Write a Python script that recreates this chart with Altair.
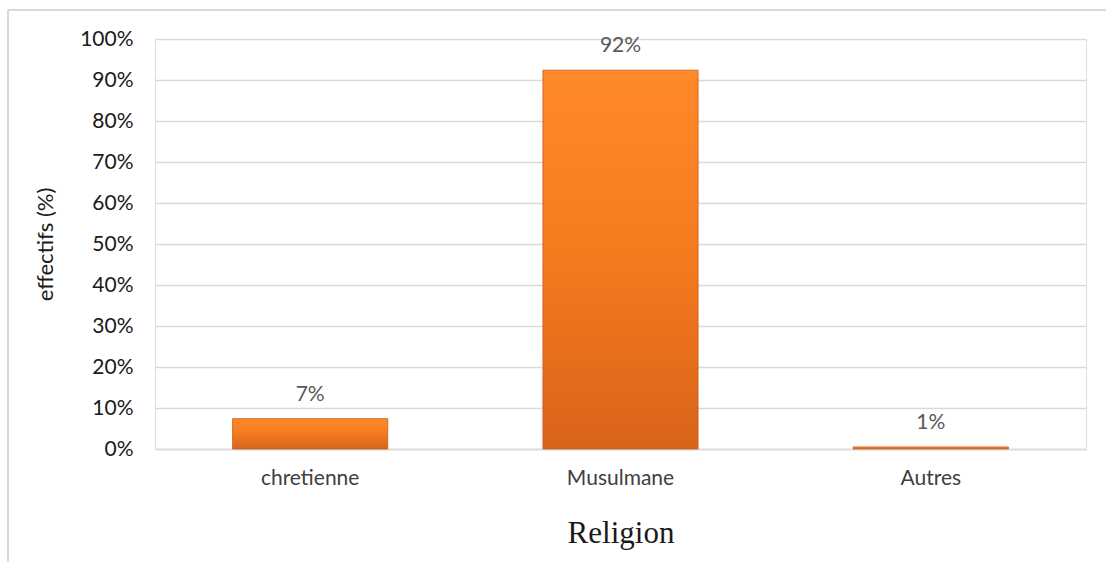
import altair as alt
import pandas as pd

categories = ["chretienne", "Musulmane", "Autres"]
values = [7.4, 92.4, 0.5]
labels = ["7%", "92%", "1%"]
y_ticks = [0, 10, 20, 30, 40, 50, 60, 70, 80, 90, 100]

df = pd.DataFrame({"religion": categories, "pct": values, "label": labels})

FONT = "Lato"
GRID = "#D9D9D9"

x_enc = alt.X(
    "religion:N",
    sort=categories,
    scale=alt.Scale(paddingInner=0.5, paddingOuter=0.25),
    axis=alt.Axis(
        title="Religion",
        labelAngle=0,
        ticks=False,
        labelFont=FONT,
        labelFontSize=21,
        labelColor="#404040",
        labelPadding=18,
        titleFont="Liberation Serif",
        titleFontSize=31,
        titleFontWeight="normal",
        titleColor="#1a1a1a",
        titlePadding=30,
        domainColor=GRID,
        domainWidth=1.5,
    ),
)

y_enc = alt.Y(
    "pct:Q",
    scale=alt.Scale(domain=[0, 100], nice=False),
    axis=alt.Axis(
        title="effectifs (%)",
        values=y_ticks,
        labelExpr="datum.value + '%'",
        ticks=False,
        domain=False,
        labelFont=FONT,
        labelFontSize=21,
        labelColor="#1a1a1a",
        labelPadding=22,
        titleFont=FONT,
        titleFontSize=22,
        titleFontWeight="normal",
        titleColor="#1a1a1a",
        titlePadding=22,
        gridColor=GRID,
        gridWidth=1.5,
    ),
)

bars = alt.Chart(df).mark_bar(
    color=alt.Gradient(
        gradient="linear",
        x1=0, y1=0, x2=0, y2=1,
        stops=[
            alt.GradientStop(offset=0, color="#FF8A2A"),
            alt.GradientStop(offset=0.5, color="#F57A1E"),
            alt.GradientStop(offset=1, color="#D8641A"),
        ],
    ),
    stroke="#C95A18",
    strokeWidth=0.8,
).encode(x=x_enc, y=y_enc)

text = alt.Chart(df).mark_text(
    baseline="bottom", dy=-14, font=FONT, fontSize=21, color="#595959"
).encode(x=alt.X("religion:N", sort=categories), y="pct:Q", text="label:N")

frame_top = alt.Chart(df).mark_rule(color=GRID, strokeWidth=2).encode(
    x=alt.value(-147), x2=alt.value(951), y=alt.value(-29)
)
frame_left = alt.Chart(df).mark_rule(color=GRID, strokeWidth=2).encode(
    x=alt.value(-147), y=alt.value(-29), y2=alt.value(523)
)

chart = alt.layer(bars, text, frame_top, frame_left).properties(
    width=931,
    height=410,
    autosize=alt.AutoSizeParams(type="none"),
    padding={"left": 155, "top": 39, "right": 20, "bottom": 113},
).configure_view(stroke=None).configure(background="white")

chart.save("out.html", embed_options={"renderer": "svg", "actions": False})
